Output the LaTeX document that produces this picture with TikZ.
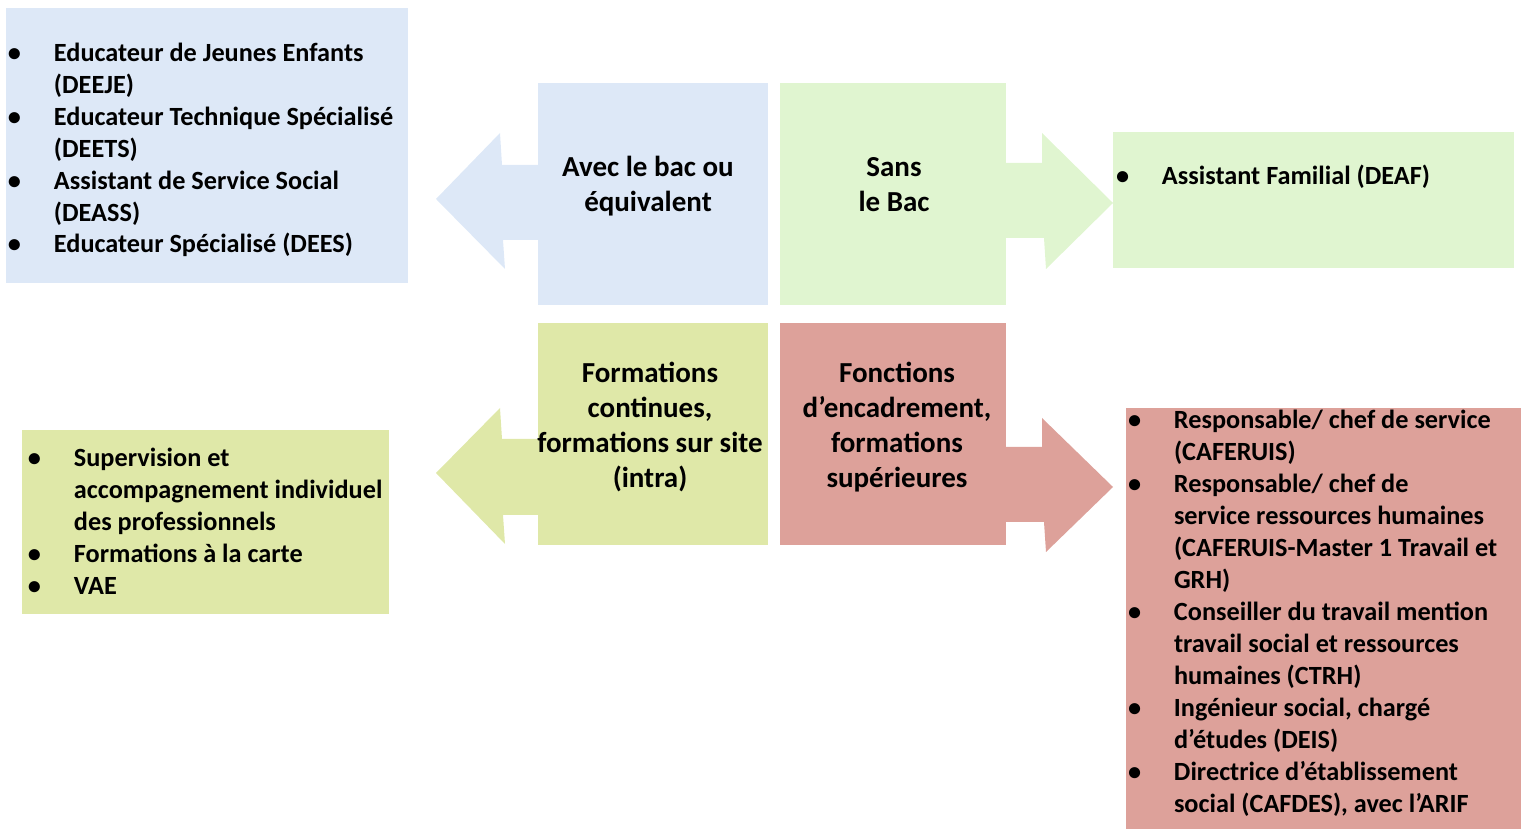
\documentclass[tikz,border=0pt]{standalone}
\usepackage{fontspec}
\setmainfont{Carlito}
\definecolor{cblue}{HTML}{DDE8F7}
\definecolor{cgreen}{HTML}{E0F5D0}
\definecolor{cyel}{HTML}{DFE8A8}
\definecolor{cpink}{HTML}{DDA19A}
\newlength\bw \setlength\bw{0.92cm}
\newcommand\bl{\makebox[\bw][l]{\textbullet}}
\newcommand\ind{\hspace*{\bw}}
\begin{document}
\begin{tikzpicture}[x=0.02cm,y=-0.02cm,
  every node/.style={inner sep=0pt,outer sep=0pt},
  listtext/.style={align=left,anchor=base west,font=\fontsize{14.95}{18.2}\selectfont\bfseries},
  midtext/.style={align=center,anchor=base,font=\fontsize{16.5}{19.9}\selectfont\bfseries}]
\useasboundingbox (0,0) rectangle (1521,830);
% top row
\fill[cblue] (6,8) rectangle (408,283);
\fill[cblue] (538,83) rectangle (768,305);
\fill[cblue] (538,165) -- (502,165) -- (500,133) -- (436,199) -- (505,269) -- (503,240) -- (538,240) -- cycle;
\fill[cgreen] (780,83) rectangle (1006,305);
\fill[cgreen] (1006,163) -- (1042,163) -- (1042,133) -- (1113,203) -- (1046,269) -- (1044,238) -- (1006,238) -- cycle;
\fill[cgreen] (1113,132) rectangle (1514,268);
% bottom row
\fill[cyel] (538,323) rectangle (768,545);
\fill[cyel] (538,439) -- (502,439) -- (500,408) -- (436,473) -- (505,544) -- (503,515) -- (538,515) -- cycle;
\fill[cyel] (22,430) rectangle (389,614);
\fill[cpink] (780,323) rectangle (1006,545);
\fill[cpink] (1006,447) -- (1042,447) -- (1042,418) -- (1113,487) -- (1046,552) -- (1044,522) -- (1006,522) -- cycle;
\fill[cpink] (1126,408) rectangle (1521,829);
% centre texts (anchor = baseline of last line)
\node[midtext] (avec) at (648,211.5) {Avec le bac ou\\équivalent};
\node[midtext] (sans) at (894,211.5) {Sans\\le Bac};
\node[midtext] (form) at (650,487.5) {Formations\\continues,\\formations sur site\\(intra)};
\node[midtext] (fonc) at (897,487.5) {Fonctions\\d’encadrement,\\formations\\supérieures};
% lists (anchor = baseline of last line)
\node[listtext] (l1) at (8,253) {\bl Educateur de Jeunes Enfants\\\ind (DEEJE)\\\bl Educateur Technique Spécialisé\\\ind (DEETS)\\\bl Assistant de Service Social\\\ind (DEASS)\\\bl Educateur Spécialisé (DEES)};
\node[listtext] (l2) at (1116,184.5) {\bl Assistant Familial (DEAF)};
\node[listtext] (l3) at (28,594.5) {\bl Supervision et\\\ind accompagnement individuel\\\ind des professionnels\\\bl Formations à la carte\\\bl VAE};
\node[listtext] (l4) at (1128,812.5) {\bl Responsable/ chef de service\\\ind (CAFERUIS)\\\bl Responsable/ chef de\\\ind service ressources humaines\\\ind (CAFERUIS-Master 1 Travail et\\\ind GRH)\\\bl Conseiller du travail mention\\\ind travail social et ressources\\\ind humaines (CTRH)\\\bl Ingénieur social, chargé\\\ind d’études (DEIS)\\\bl Directrice d’établissement\\\ind social (CAFDES), avec l’ARIF};
\end{tikzpicture}
\end{document}
